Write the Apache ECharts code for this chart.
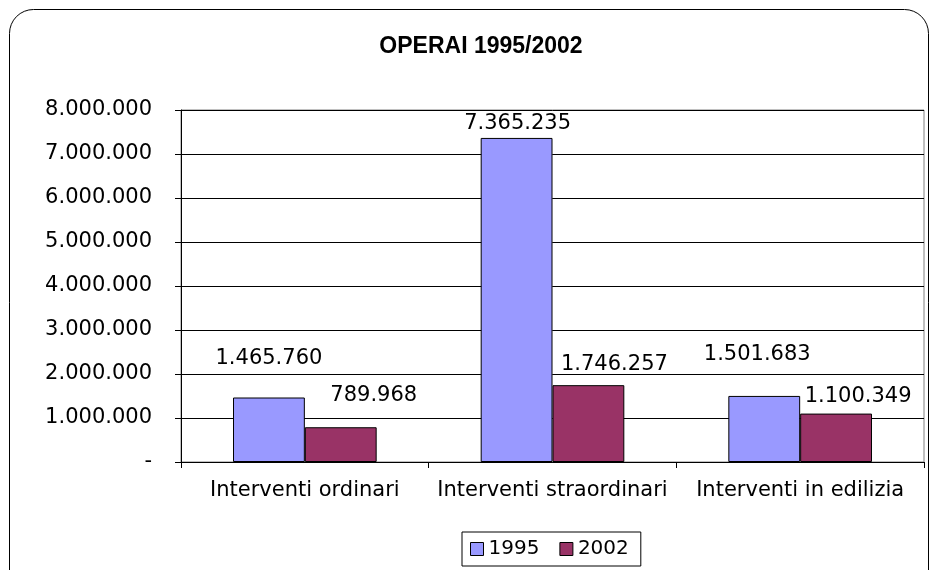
<!DOCTYPE html>
<html>
<head>
    <meta charset="utf-8">
    <title>OPERAI 1995/2002</title>
    <script src="https://cdn.jsdelivr.net/npm/echarts@6/dist/echarts.min.js"></script>
    <style>
        html, body { margin: 0; padding: 0; background: #fff; }
    </style>
</head>
<body>
    <div id="main" style="width:931px;height:570px"></div>
    <script type="text/javascript">
        // dati
        var categories = ['Interventi ordinari', 'Interventi straordinari', 'Interventi in edilizia'];
        var values1995 = [1465760, 7365235, 1501683];
        var values2002 = [789968, 1746257, 1100349];
        var seriesNames = ['1995', '2002'];

        // spostamenti delle etichette (come nel grafico originale)
        var labelShift1995 = [[0, -28], [1, -4], [-7, -31]];
        var labelShift2002 = [[33, -21], [26, -10], [22, -7]];

        function fmt(v) {
            if (v === 0) return '-';
            return String(v).replace(/\B(?=(\d{3})+(?!\d))/g, '.');
        }

        function withShift(values, shifts) {
            return values.map(function (v, i) {
                return { value: v, label: { offset: shifts[i] } };
            });
        }

        var font = 'DejaVu Sans';
        var chart = echarts.init(document.getElementById('main'));

        var barLabel = {
            show: true,
            position: 'top',
            distance: 0,
            fontFamily: font,
            fontSize: 21,
            color: '#000',
            formatter: function (p) { return fmt(p.value); }
        };

        chart.setOption({
            animation: false,
            backgroundColor: '#fff',
            graphic: [{
                type: 'rect',
                shape: { x: 9.5, y: 9.5, width: 919, height: 600, r: 24 },
                style: { fill: 'none', stroke: '#000', lineWidth: 1 },
                z: -1
            }],
            title: {
                text: 'OPERAI 1995/2002',
                left: 476,
                top: 30,
                textAlign: 'center',
                textStyle: {
                    fontFamily: 'Liberation Sans',
                    fontWeight: 'bold',
                    fontSize: 23,
                    color: '#000'
                }
            },
            legend: {
                left: 462,
                top: 532,
                padding: [7, 12, 7, 8],
                borderColor: '#000',
                borderWidth: 1,
                itemWidth: 13,
                itemHeight: 13,
                itemGap: 20,
                icon: 'rect',
                itemStyle: { borderColor: '#000', borderWidth: 1 },
                textStyle: { fontFamily: font, fontSize: 20, color: '#000' },
                data: seriesNames
            },
            grid: {
                left: 181,
                right: 7,
                top: 110,
                bottom: 108,
                show: true,
                borderColor: '#808080',
                borderWidth: 1
            },
            xAxis: {
                type: 'category',
                data: categories,
                axisLine: { lineStyle: { color: '#000', width: 1 } },
                axisTick: { show: true, interval: 0, length: 6, lineStyle: { color: '#000' } },
                axisLabel: {
                    interval: 0,
                    margin: 18,
                    fontFamily: font,
                    fontSize: 21,
                    color: '#000'
                }
            },
            yAxis: {
                type: 'value',
                min: 0,
                max: 8000000,
                interval: 1000000,
                axisLine: { show: true, lineStyle: { color: '#000', width: 1 } },
                axisTick: { show: true, length: 6, lineStyle: { color: '#000' } },
                splitLine: { lineStyle: { color: '#000', width: 1 } },
                axisLabel: {
                    margin: 29,
                    fontFamily: font,
                    fontSize: 21,
                    color: '#000',
                    formatter: fmt
                }
            },
            series: [
                {
                    name: seriesNames[0],
                    type: 'bar',
                    barGap: '0%',
                    barCategoryGap: '42%',
                    itemStyle: { color: '#9999FF', borderColor: '#000', borderWidth: 1 },
                    label: barLabel,
                    data: withShift(values1995, labelShift1995)
                },
                {
                    name: seriesNames[1],
                    type: 'bar',
                    barGap: '0%',
                    barCategoryGap: '42%',
                    itemStyle: { color: '#993366', borderColor: '#000', borderWidth: 1 },
                    label: barLabel,
                    data: withShift(values2002, labelShift2002)
                }
            ]
        });
    </script>
</body>
</html>
